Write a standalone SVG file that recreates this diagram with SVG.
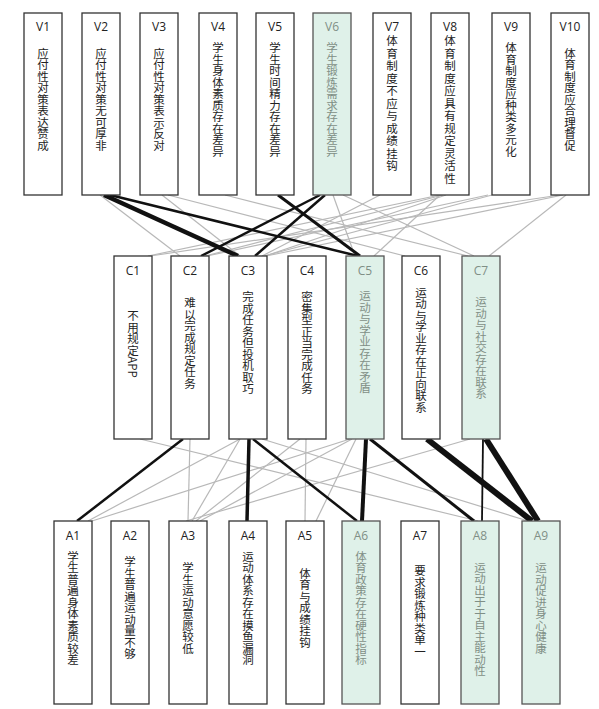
<svg xmlns="http://www.w3.org/2000/svg" width="599" height="709" viewBox="0 0 599 709">
<style>
.bx{fill:#fff;stroke:#333;stroke-width:1.3}
.gb{fill:#dff1e9;stroke:#555;stroke-width:1.3}
.lab{font-family:"Open Sans","DejaVu Sans",sans-serif;font-size:12px;text-anchor:middle;fill:#222}
.vt{font-family:"Noto Sans CJK SC",sans-serif;font-size:11.5px;writing-mode:vertical-rl;text-anchor:middle;fill:#222}
.gt{fill:#7f8f86}
.g{stroke:#b8b8b8;stroke-width:1.2;fill:none}
.k{stroke:#111;fill:none}
</style>
<rect width="599" height="709" fill="#fff"/>
<g id="connectors">
<line class="g" x1="100" y1="195" x2="180" y2="256"/>
<line class="g" x1="162" y1="195" x2="240" y2="256"/>
<line class="g" x1="168" y1="195" x2="405" y2="256"/>
<line class="g" x1="225" y1="195" x2="468" y2="256"/>
<line class="g" x1="333" y1="195" x2="355" y2="256"/>
<line class="g" x1="343" y1="195" x2="474" y2="256"/>
<line class="g" x1="380" y1="195" x2="262" y2="256"/>
<line class="g" x1="440" y1="195" x2="148" y2="256"/>
<line class="g" x1="443" y1="195" x2="205" y2="256"/>
<line class="g" x1="446" y1="195" x2="265" y2="256"/>
<line class="g" x1="440" y1="195" x2="374" y2="256"/>
<line class="g" x1="488" y1="195" x2="207" y2="256"/>
<line class="g" x1="492" y1="195" x2="264" y2="256"/>
<line class="g" x1="560" y1="195" x2="150" y2="256"/>
<line class="g" x1="563" y1="195" x2="266" y2="256"/>
<line class="g" x1="566" y1="195" x2="489" y2="256"/>
<line class="g" x1="140" y1="439" x2="478" y2="521"/>
<line class="g" x1="190" y1="439" x2="188" y2="521"/>
<line class="g" x1="240" y1="439" x2="88" y2="521"/>
<line class="g" x1="240" y1="439" x2="192" y2="521"/>
<line class="g" x1="262" y1="439" x2="528" y2="521"/>
<line class="g" x1="306" y1="439" x2="305" y2="521"/>
<line class="g" x1="300" y1="439" x2="196" y2="521"/>
<line class="g" x1="350" y1="439" x2="92" y2="521"/>
<line class="g" x1="352" y1="439" x2="200" y2="521"/>
<line class="g" x1="356" y1="439" x2="316" y2="521"/>
<line class="g" x1="470" y1="439" x2="186" y2="521"/>
<line class="k" stroke-width="4.5" x1="104" y1="195" x2="238" y2="256"/>
<line class="k" stroke-width="2.5" x1="110" y1="195" x2="358" y2="256"/>
<line class="k" stroke-width="3" x1="278" y1="195" x2="360" y2="256"/>
<line class="k" stroke-width="2.5" x1="320" y1="195" x2="201" y2="256"/>
<line class="k" stroke-width="2.5" x1="325" y1="195" x2="255" y2="256"/>
<line class="k" stroke-width="2.5" x1="183" y1="439" x2="77" y2="521"/>
<line class="k" stroke-width="3.5" x1="249" y1="439" x2="247" y2="521"/>
<line class="k" stroke-width="2.5" x1="253" y1="439" x2="357" y2="521"/>
<line class="k" stroke-width="4" x1="366" y1="439" x2="362" y2="521"/>
<line class="k" stroke-width="3" x1="370" y1="439" x2="474" y2="521"/>
<line class="k" stroke-width="6" x1="427" y1="439" x2="532" y2="521"/>
<line class="k" stroke-width="6" x1="486" y1="439" x2="538" y2="521"/>
<line class="k" stroke-width="1.8" x1="483" y1="439" x2="482" y2="521"/>
</g>
<g id="V1"><rect class="bx" x="24" y="13" width="38" height="182"/><text class="lab" x="43" y="31">V1</text><text class="vt" x="43" y="99.5">应付性对策表达赞成</text></g>
<g id="V2"><rect class="bx" x="82" y="13" width="38" height="182"/><text class="lab" x="101" y="31">V2</text><text class="vt" x="101" y="99.5">应付性对策无可厚非</text></g>
<g id="V3"><rect class="bx" x="140" y="13" width="38" height="182"/><text class="lab" x="159" y="31">V3</text><text class="vt" x="159" y="99.5">应付性对策表示反对</text></g>
<g id="V4"><rect class="bx" x="199" y="13" width="38" height="182"/><text class="lab" x="218" y="31">V4</text><text class="vt" x="218" y="99.5">学生身体素质存在差异</text></g>
<g id="V5"><rect class="bx" x="256" y="13" width="38" height="182"/><text class="lab" x="275" y="31">V5</text><text class="vt" x="275" y="99.5">学生时间精力存在差异</text></g>
<g id="V6"><rect class="gb" x="313" y="13" width="38" height="182"/><text class="lab gt" x="332" y="31">V6</text><text class="vt gt" x="332" y="99.5">学生锻炼需求存在差异</text></g>
<g id="V7"><rect class="bx" x="373" y="13" width="38" height="182"/><text class="lab" x="392" y="31">V7</text><text class="vt" x="392" y="104" letter-spacing="1">体育制度不应与成绩挂钩</text></g>
<g id="V8"><rect class="bx" x="431" y="13" width="38" height="182"/><text class="lab" x="450" y="31">V8</text><text class="vt" x="450" y="110" letter-spacing="1">体育制度应具有规定灵活性</text></g>
<g id="V9"><rect class="bx" x="492" y="13" width="38" height="182"/><text class="lab" x="511" y="31">V9</text><text class="vt" x="511" y="99.5">体育制度应种类多元化</text></g>
<g id="V10"><rect class="bx" x="551" y="13" width="38" height="182"/><text class="lab" x="570" y="31">V10</text><text class="vt" x="570" y="99.5">体育制度应合理督促</text></g>
<g id="C1"><rect class="bx" x="114" y="256" width="38" height="183"/><text class="lab" x="133" y="275">C1</text><text class="vt" x="133" y="344">不用规定APP</text></g>
<g id="C2"><rect class="bx" x="171" y="256" width="38" height="183"/><text class="lab" x="190" y="275">C2</text><text class="vt" x="190" y="343">难以完成规定任务</text></g>
<g id="C3"><rect class="bx" x="229" y="256" width="38" height="183"/><text class="lab" x="248" y="275">C3</text><text class="vt" x="248" y="343">完成任务但投机取巧</text></g>
<g id="C4"><rect class="bx" x="288" y="256" width="38" height="183"/><text class="lab" x="307" y="275">C4</text><text class="vt" x="307" y="343">密集型正当完成任务</text></g>
<g id="C5"><rect class="gb" x="346" y="256" width="38" height="183"/><text class="lab gt" x="365" y="275">C5</text><text class="vt gt" x="365" y="342">运动与学业存在矛盾</text></g>
<g id="C6"><rect class="bx" x="402" y="256" width="38" height="183"/><text class="lab" x="421" y="275">C6</text><text class="vt" x="421" y="350">运动与学业存在正向联系</text></g>
<g id="C7"><rect class="gb" x="462" y="256" width="38" height="183"/><text class="lab gt" x="481" y="275">C7</text><text class="vt gt" x="481" y="348">运动与社交存在联系</text></g>
<g id="A1"><rect class="bx" x="54" y="521" width="38" height="183"/><text class="lab" x="73" y="540">A1</text><text class="vt" x="73" y="608">学生普遍身体素质较差</text></g>
<g id="A2"><rect class="bx" x="111" y="521" width="38" height="183"/><text class="lab" x="130" y="540">A2</text><text class="vt" x="130" y="608">学生普遍运动量不够</text></g>
<g id="A3"><rect class="bx" x="169" y="521" width="38" height="183"/><text class="lab" x="188" y="540">A3</text><text class="vt" x="188" y="608">学生运动意愿较低</text></g>
<g id="A4"><rect class="bx" x="229" y="521" width="38" height="183"/><text class="lab" x="248" y="540">A4</text><text class="vt" x="248" y="608">运动体系存在摸鱼漏洞</text></g>
<g id="A5"><rect class="bx" x="286" y="521" width="38" height="183"/><text class="lab" x="305" y="540">A5</text><text class="vt" x="305" y="608">体育与成绩挂钩</text></g>
<g id="A6"><rect class="gb" x="342" y="521" width="38" height="183"/><text class="lab gt" x="361" y="540">A6</text><text class="vt gt" x="361" y="608">体育政策存在硬性指标</text></g>
<g id="A7"><rect class="bx" x="401" y="521" width="38" height="183"/><text class="lab" x="420" y="540">A7</text><text class="vt" x="420" y="611">要求锻炼种类单一</text></g>
<g id="A8"><rect class="gb" x="461" y="521" width="38" height="183"/><text class="lab gt" x="480" y="540">A8</text><text class="vt gt" x="480" y="619">运动出于于自主能动性</text></g>
<g id="A9"><rect class="gb" x="522" y="521" width="38" height="183"/><text class="lab gt" x="541" y="540">A9</text><text class="vt gt" x="541" y="608">运动促进身心健康</text></g>
</svg>
